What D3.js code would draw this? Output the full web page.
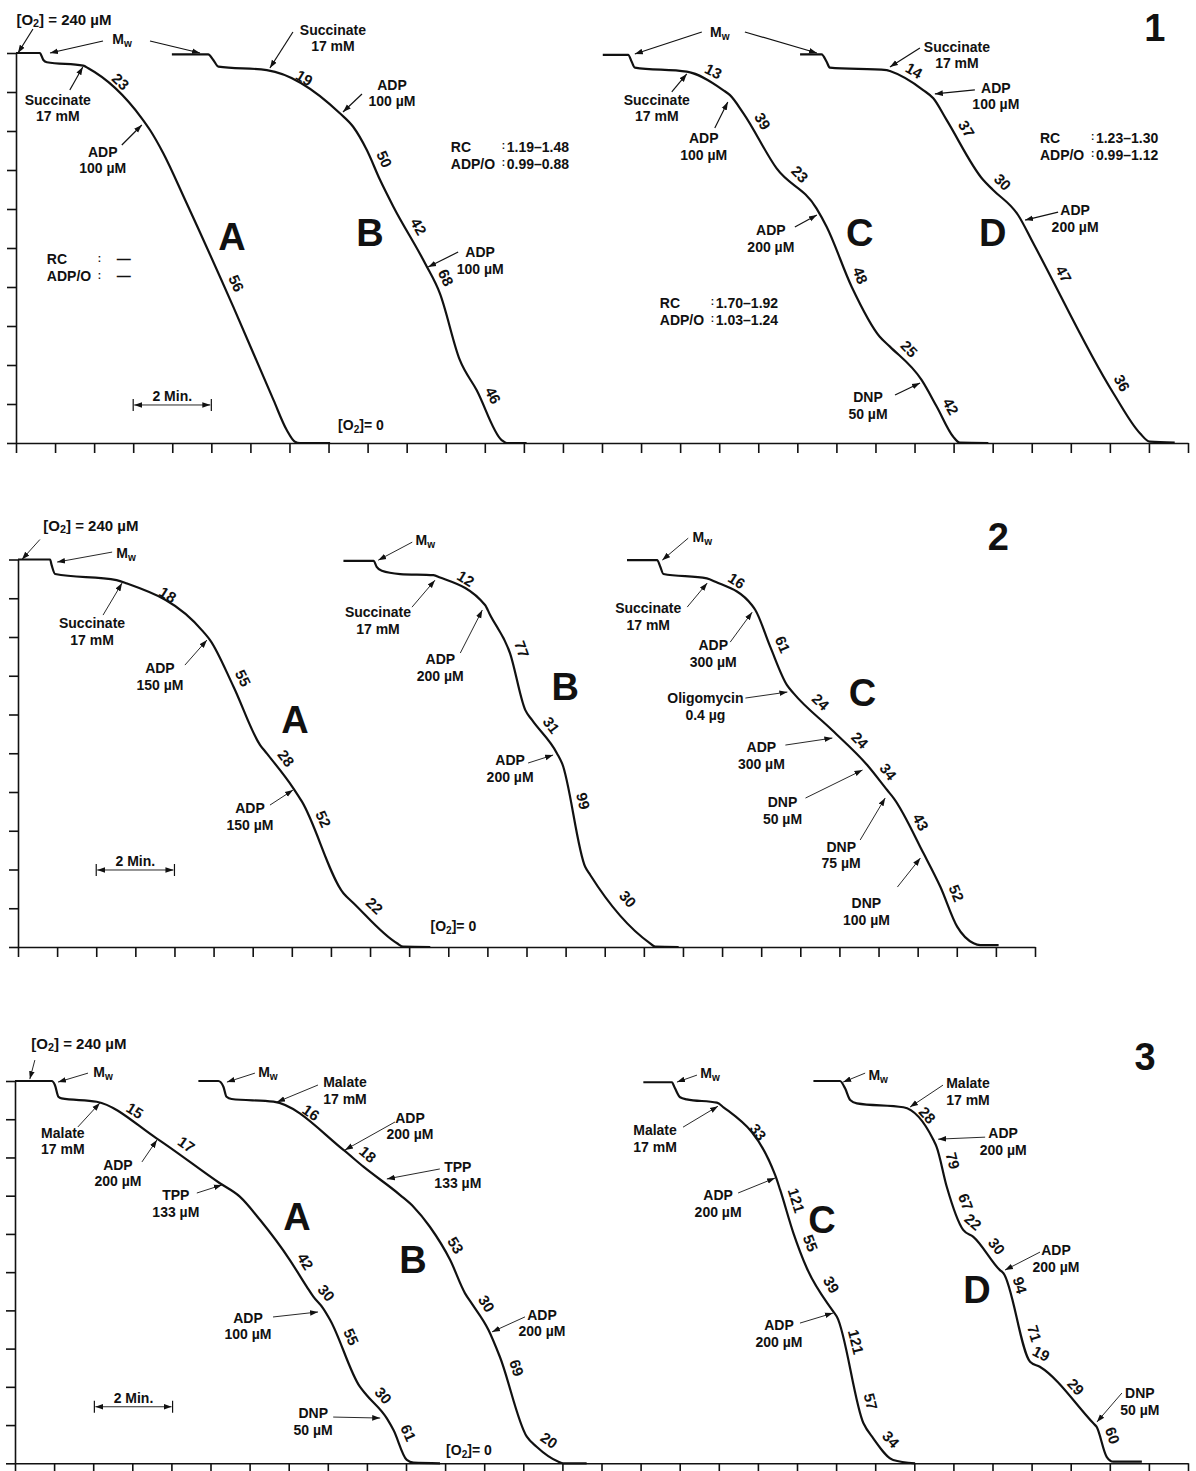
<!DOCTYPE html>
<html lang="en">
<head>
<meta charset="UTF-8">
<title>Oxygen electrode traces</title>
<script src="https://cdn.jsdelivr.net/npm/d3@7"></script>
<style>
    body { margin: 0; background: #fff; }
    svg { display: block; font-family: "Liberation Sans", Arial, sans-serif; }
    .axis path, .axis line { stroke: #111; stroke-width: 1.6px; }
    .trace { fill: none; stroke: #111; stroke-width: 2.2px; stroke-linejoin: round; }
    .note { font-size: 14px; font-weight: bold; fill: #111; }
    .note.o2 { font-size: 15px; }
    .rate { font-size: 15px; font-weight: bold; fill: #111; }
    .big { font-size: 38px; font-weight: bold; fill: #111; }
    .ptr { stroke: #111; stroke-width: 1.2px; }
    .ptr.fine { stroke-width: 0.9px; }
</style>
</head>
<body>
<script>

    /******* DATA *******/
    // traces: [minutes, O2 in µM]
    const trace1A = [[0,240],[0.61,240],[0.70,235.7],[0.79,234.3],[1.72,232.2],[1.85,230.6],[3.22,199.8],[3.43,192.6],[3.77,178.3],[4.33,149.5],[5.56,83.9],[6.59,26.5],[6.93,8],[7.14,0.8],[7.27,0],[8.04,0]];
    const trace1B = [[3.99,239.2],[4.92,239.2],[5.05,235.7],[5.18,231.6],[6.42,229.5],[8.29,202.9],[8.63,194.6],[8.98,180.3],[9.32,161.8],[9.66,145.4],[10.47,110.6],[10.85,92.1],[11.36,51.1],[11.79,32.6],[12.43,1.8],[12.56,0],[13.07,0]];
    const trace1C = [[15.02,238.8],[15.67,238.8],[15.76,234.6],[15.84,231],[17.17,228.5],[18.10,217.2],[18.27,214.2],[18.62,202.9],[19.47,169],[20.49,144.4],[20.75,133.1],[21.39,96.2],[22.11,65.4],[22.37,59.3],[23.18,38.8],[23.57,22.3],[23.99,3.9],[24.16,0.2],[24.89,0]];
    const trace1D = [[20.07,239.2],[20.62,239.2],[20.75,234.6],[20.83,231],[22.29,229.5],[22.37,228.9],[23.22,217.2],[23.48,212.1],[23.82,198.8],[24.76,161.8],[25.01,155.7],[25.65,140.3],[26.04,122.9],[28.09,30.6],[28.77,6],[29.02,0.8],[29.66,0.2]];
    const trace2A = [[0,240],[0.82,240],[0.86,236.5],[0.95,231],[2.52,227.2],[2.78,225.2],[4.74,195.2],[4.91,190.1],[5.51,161.2],[6.19,125.1],[6.36,119.9],[7.04,98.3],[7.26,90],[8.32,33.3],[8.58,27.1],[9.69,2.3],[9.85,0.2],[10.54,0]];
    const trace2B = [[8.32,239.2],[9.09,239.2],[9.17,235.5],[9.30,233],[9.77,231],[10.62,230.3],[10.79,228.9],[11.94,211.8],[12.07,205.6],[12.58,181.9],[12.97,146.7],[13.14,140.6],[13.78,119.9],[13.91,113.7],[14.50,49.7],[14.63,44.6],[16.16,2.3],[16.29,0.2],[16.89,0]];
    const trace2C = [[15.57,239.6],[16.34,239.6],[16.42,235.5],[16.50,231],[17.61,228.3],[17.83,226.2],[18.76,211.8],[18.85,208.7],[19.23,186],[19.66,162.2],[19.83,157.1],[20.81,134.4],[21.71,112.7],[22.22,97.2],[22.39,92.1],[23.15,58],[23.58,37.3],[24.01,12.6],[24.43,2.3],[24.60,1.2],[25.07,1.2]];
    const trace3A = [[0,240],[0.94,240],[1.02,237.5],[1.11,230.1],[1.19,229.1],[2.09,227],[3.62,204],[5.24,175.8],[5.75,167.4],[6.27,152.7],[7.03,127.6],[7.46,110.9],[7.63,104.6],[7.88,97.3],[8.06,90],[8.82,48.1],[8.99,42.9],[9.51,28.2],[9.68,20.9],[10.02,2.1],[10.19,0.4],[10.87,0]];
    const trace3B = [[4.69,240],[5.20,240],[5.33,236.4],[5.41,230.1],[5.54,228.7],[6.61,227],[8.40,196.7],[8.91,186.2],[9.85,168.4],[10.19,161.1],[10.61,148.5],[11.13,127.6],[11.51,106.7],[11.68,100.4],[12.11,83.7],[12.40,66.9],[13.09,16.7],[13.34,10.4],[13.90,1],[14.02,0],[14.62,0]];
    const trace3C = [[16.07,239.2],[16.80,239.2],[16.88,235.4],[17.01,229.8],[17.18,228.5],[17.95,226.4],[18.12,223.5],[19.44,181],[19.57,171.6],[19.91,144.4],[20.25,122.6],[20.93,95.2],[21.02,92],[21.70,25.1],[21.95,15.7],[22.46,2.1],[23.02,0]];
    const trace3D = [[20.42,240],[21.10,240],[21.23,235.4],[21.36,228.1],[21.53,226],[22.72,223.5],[23.49,202.9],[23.57,198.7],[23.83,173.6],[24.25,146.5],[24.51,142.2],[25.19,121.3],[25.28,119.3],[25.96,63.8],[26.21,60.6],[27.58,25.1],[27.66,23],[27.92,4.1],[28.09,1],[28.82,1]];

    const traces = {"1A":trace1A,"1B":trace1B,"1C":trace1C,"1D":trace1D,
                    "2A":trace2A,"2B":trace2B,"2C":trace2C,
                    "3A":trace3A,"3B":trace3B,"3C":trace3C,"3D":trace3D};

    // respiration rates written along the traces: [trace, minute, text]
    const rateLabels = [
        ["1A",2.46,"23"],["1A",5.35,"56"],
        ["1B",7.22,"19"],["1B",9.14,"50"],["1B",10.03,"42"],["1B",10.72,"68"],["1B",11.93,"46"],
        ["1C",17.71,"13"],["1C",18.84,"39"],["1C",19.84,"23"],["1C",21.32,"48"],["1C",22.63,"25"],["1C",23.65,"42"],
        ["1D",22.83,"14"],["1D",24.06,"37"],["1D",25.03,"30"],["1D",26.54,"47"],["1D",28.03,"36"],
        ["2A",3.66,"18"],["2A",5.47,"55"],["2A",6.6,"28"],["2A",7.52,"52"],["2A",8.9,"22"],
        ["2B",11.28,"12"],["2B",12.58,"77"],["2B",13.38,"31"],["2B",14.14,"99"],["2B",15.35,"30"],
        ["2C",18.2,"16"],["2C",19.26,"61"],["2C",20.3,"24"],["2C",21.3,"24"],["2C",22.0,"34"],["2C",22.8,"43"],["2C",23.7,"52"],
        ["3A",2.9,"15"],["3A",4.2,"17"],["3A",7.16,"42"],["3A",7.72,"30"],["3A",8.31,"55"],["3A",9.18,"30"],["3A",9.77,"61"],
        ["3B",7.39,"16"],["3B",8.82,"18"],["3B",11.0,"53"],["3B",11.79,"30"],["3B",12.53,"69"],["3B",13.48,"20"],
        ["3C",18.75,"33"],["3C",19.68,"121"],["3C",20.05,"55"],["3C",20.61,"39"],["3C",21.2,"121"],["3C",21.58,"57"],["3C",22.17,"34"],
        ["3D",23.1,"28"],["3D",23.68,"79"],["3D",24.02,"67"],["3D",24.3,"22"],["3D",24.86,"30"],["3D",25.4,"94"],["3D",25.77,"71"],["3D",26.1,"19"],["3D",26.9,"29"],["3D",27.77,"60"]
    ];

    // additions: [panel, minute, µM (arrow tip), text, text dx, dy, tail dx, dy]
    const callouts = [
        [1,0.05,240,"[O2] = 240 µM",46,-34,15,-24],
        [1,0.87,240,"Mw",72,-14,53,-12],
        [1,4.71,240,"",0,0,-50,-12],
        [1,1.71,231.4,"Succinate|17 mM",-25,33,-13,23],
        [1,3.22,195.7,"ADP|100 µM",-39,27,-20,20],
        [1,6.50,230.8,"Succinate|17 mM",63,-38,23,-36],
        [1,8.37,203.7,"ADP|100 µM",49,-27,19,-18],
        [1,10.55,108.3,"ADP|100 µM",52,-15,30,-15],
        [1,15.84,239.4,"Mw",85,-22,67,-22],
        [1,20.50,240,"",0,0,-72,-21],
        [1,17.17,227.1,"Succinate|17 mM",-30,26,-15,18],
        [1,18.22,209.8,"ADP|100 µM",-24,36,-13,26],
        [1,20.50,140.3,"ADP|200 µM",-46,15,-22,12],
        [1,23.14,36.9,"DNP|50 µM",-52,14,-25,12],
        [1,22.37,231.4,"Succinate|17 mM",67,-20,30,-19],
        [1,23.52,214.8,"ADP|100 µM",61,-6,40,-4],
        [1,25.83,137.2,"ADP|200 µM",50,-10,33,-8],
        [2,0.10,240,"[O2] = 240 µM",69,-35,18,-20],
        [2,1.0,238.4,"Mw",69,-9,55,-10],
        [2,2.66,225.4,"Succinate|17 mM",-30,40,-19,32],
        [2,4.83,190.1,"ADP|150 µM",-47,28,-22,25],
        [2,7.03,97.2,"ADP|150 µM",-43,18,-23,15],
        [2,9.21,239.6,"Mw",47,-20,34,-18],
        [2,10.66,227.2,"Succinate|17 mM",-57,32,-23,27],
        [2,11.87,208.7,"ADP|200 µM",-42,49,-22,43],
        [2,13.68,118.9,"ADP|200 µM",-43,5,-25,8],
        [2,16.47,239.6,"Mw",40,-23,26,-22],
        [2,17.62,225.4,"Succinate|17 mM",-59,25,-20,24],
        [2,18.77,207.4,"ADP|300 µM",-39,33,-22,30],
        [2,19.67,157.9,"Oligomycin|0.4 µg",-82,6,-42,6],
        [2,20.82,129.4,"ADP|300 µM",-71,9,-47,7],
        [2,21.59,109.6,"DNP|50 µM",-80,32,-57,28],
        [2,22.17,92.3,"DNP|75 µM",-44,49,-25,42],
        [2,23.07,55.1,"DNP|100 µM",-54,45,-23,29],
        [3,0.38,241.2,"[O2] = 240 µM",49,-36,5,-19],
        [3,1.10,239.3,"Mw",45,-10,30,-9],
        [3,2.17,226.2,"Malate|17 mM",-37,30,-22,24],
        [3,3.63,203,"ADP|200 µM",-39,25,-15,22],
        [3,5.29,174.7,"TPP|133 µM",-46,10,-25,8],
        [3,7.75,95,"ADP|100 µM",-70,6,-45,5],
        [3,9.34,28.4,"DNP|50 µM",-67,-5,-47,-1],
        [3,5.42,239.3,"Mw",41,-10,28,-9],
        [3,6.70,226.8,"Malate|17 mM",68,-20,41,-17],
        [3,8.44,196.7,"ADP|200 µM",65,-32,50,-28],
        [3,9.51,178.5,"TPP|133 µM",71,-12,53,-10],
        [3,12.20,82.5,"ADP|200 µM",50,-17,33,-15],
        [3,16.93,239.3,"Mw",33,-9,20,-7],
        [3,17.98,224.2,"Malate|17 mM",-63,24,-35,21],
        [3,19.44,179.1,"ADP|200 µM",-57,17,-37,15],
        [3,20.92,94.3,"ADP|200 µM",-54,12,-33,10],
        [3,21.18,239.3,"Mw",35,-7,22,-9],
        [3,22.89,223.6,"Malate|17 mM",58,-24,33,-22],
        [3,23.61,203.5,"ADP|200 µM",65,-6,47,-2],
        [3,25.32,121.3,"ADP|200 µM",51,-20,35,-18],
        [3,27.67,25.9,"DNP|50 µM",43,-29,25,-29]
    ];

    // RC and ADP/O ratios: [panel, minute, µM, RC, ADP/O]
    const ratios = [
        [1,0.79,113.2,"—","—"],
        [1,11.13,182.2,"1.19–1.48","0.99–0.88"],
        [1,16.48,86.2,"1.70–1.92","1.03–1.24"],
        [1,26.21,187.7,"1.23–1.30","0.99–1.12"]
    ];

    const traceLetters = [[1,5.53,126.8,"A"],[1,9.06,129.2,"B"],[1,21.6,129.2,"C"],[1,25.0,129.2,"D"],
                          [2,7.08,140.6,"A"],[2,13.99,161,"B"],[2,21.59,157.3,"C"],
                          [3,7.21,154.6,"A"],[3,10.18,127.6,"B"],[3,20.64,152.7,"C"],[3,24.6,108.8,"D"]];
    const panelNumbers = [[1,29.15,255.4,"1"],[2,25.06,253.9,"2"],[3,28.9,255,"3"]];
    const minuteBars = [[1,3.0,23.4],[2,2.0,47.7],[3,2.03,35.5]];
    const zeroLabels = [[1,8.83,11.1],[2,11.13,13],[3,11.61,8.4]];

    /******* LAYOUT *******/
    const width = 1196, height = 1471;
    const panels = [
        {id:1, left:16, right:1188, minutes:30, top:53, bottom:443},
        {id:2, left:18, right:1035, minutes:26, top:559.5, bottom:947},
        {id:3, left:15, right:1188, minutes:30, top:1081, bottom:1463.3}
    ];

    const svg = d3.select("body").append("svg").attr("width", width).attr("height", height);
    svg.append("defs").append("marker")
        .attr("id", "head").attr("viewBox", "0 0 10 10")
        .attr("refX", 10).attr("refY", 5)
        .attr("markerWidth", 8).attr("markerHeight", 8)
        .attr("markerUnits", "userSpaceOnUse").attr("orient", "auto-start-reverse")
        .append("path").attr("d", "M0,1.5L10,5L0,8.5Z").attr("fill", "#111");

    // rich text with subscripts for O2 and Mw
    function rich(sel, str) {
        let shift = 0;
        str.split(/(O2|Mw)/).filter(s => s).forEach(part => {
            if (part === "O2" || part === "Mw") {
                sel.append("tspan").attr("dy", shift ? -shift : null).text(part[0]);
                sel.append("tspan").attr("dy", 4).attr("font-size", "72%").text(part[1]);
                shift = 4;
            } else {
                sel.append("tspan").attr("dy", shift ? -shift : null).text(part);
                shift = 0;
            }
        });
    }

    function pointAt(tr, t) {
        if (t <= tr[0][0]) return tr[0];
        for (let i = 0; i < tr.length - 1; i++) {
            const a = tr[i], b = tr[i + 1];
            if (t >= a[0] && t <= b[0]) {
                const f = (t - a[0]) / (b[0] - a[0] || 1);
                return [t, a[1] + f * (b[1] - a[1])];
            }
        }
        return tr[tr.length - 1];
    }

    /******* AXES *******/
    const scales = {};
    panels.forEach(p => {
        const x = d3.scaleLinear().domain([0, p.minutes]).range([p.left, p.right]);
        const y = d3.scaleLinear().domain([0, 240]).range([p.bottom, p.top]);
        scales[p.id] = {x, y};

        svg.append("g").attr("class", "axis")
            .attr("transform", `translate(0,${p.bottom})`)
            .call(d3.axisBottom(x).tickValues(d3.range(0, p.minutes + 1))
                .tickSize(10).tickSizeOuter(0).tickFormat(""));
        svg.append("g").attr("class", "axis")
            .attr("transform", `translate(${p.left},0)`)
            .call(d3.axisLeft(y).tickValues(d3.range(0, 241, 24))
                .tickSize(9).tickSizeOuter(0).tickFormat(""));
    });

    /******* TRACES *******/
    Object.entries(traces).forEach(([key, tr]) => {
        const s = scales[key[0]];
        const line = d3.line().x(d => s.x(d[0])).y(d => s.y(d[1])).curve(d3.curveMonotoneX);
        svg.append("path").attr("class", "trace").attr("d", line(tr));
    });

    // rates, rotated along the trace
    rateLabels.forEach(([key, t, txt]) => {
        const s = scales[key[0]], tr = traces[key];
        const a = pointAt(tr, t - 0.06), b = pointAt(tr, t + 0.06), c = pointAt(tr, t);
        const ang = Math.atan2(s.y(b[1]) - s.y(a[1]), s.x(b[0]) - s.x(a[0])) * 180 / Math.PI;
        svg.append("text").attr("class", "rate")
            .attr("transform", `translate(${s.x(c[0])},${s.y(c[1])}) rotate(${ang})`)
            .attr("y", -7).attr("text-anchor", "middle")
            .text(txt);
    });

    /******* ANNOTATIONS *******/
    callouts.forEach(([p, t, v, txt, dx, dy, ax, ay]) => {
        const s = scales[p];
        const px = s.x(t), py = s.y(v);
        svg.append("line").attr("class", p === 1 ? "ptr" : "ptr fine")
            .attr("x1", px + ax).attr("y1", py + ay)
            .attr("x2", px).attr("y2", py)
            .attr("marker-end", "url(#head)");
        if (!txt) return;
        txt.split("|").forEach((ln, i) => {
            const el = svg.append("text").attr("class", ln.startsWith("[O2]") ? "note o2" : "note")
                .attr("x", px + dx).attr("y", py + dy + i * 16.5)
                .attr("text-anchor", "middle").attr("dominant-baseline", "central");
            rich(el, ln);
        });
    });

    ratios.forEach(([p, t, v, rc, adpo]) => {
        const s = scales[p];
        const px = s.x(t), py = s.y(v);
        [["RC", rc], ["ADP/O", adpo]].forEach(([lab, val], i) => {
            const yy = py + i * 17;
            svg.append("text").attr("class", "note").attr("x", px).attr("y", yy)
                .attr("dominant-baseline", "central").text(lab);
            svg.append("text").attr("class", "note").attr("x", px + 51).attr("y", yy - 1)
                .attr("dominant-baseline", "central").style("font-size", "10px").text(":");
            svg.append("text").attr("class", "note").attr("x", px + (val === "—" ? 70 : 56)).attr("y", yy)
                .attr("dominant-baseline", "central").text(val);
        });
    });

    traceLetters.concat(panelNumbers).forEach(([p, t, v, txt]) => {
        const s = scales[p];
        svg.append("text").attr("class", "big")
            .attr("x", s.x(t)).attr("y", s.y(v))
            .attr("text-anchor", "middle").attr("dominant-baseline", "central")
            .text(txt);
    });

    // 2 minute scale bars
    minuteBars.forEach(([p, t, v]) => {
        const s = scales[p];
        const x1 = s.x(t), x2 = s.x(t + 2), yy = s.y(v);
        const g = svg.append("g");
        [x1, x2].forEach(xx => g.append("line").attr("class", "ptr")
            .attr("x1", xx).attr("x2", xx).attr("y1", yy - 6).attr("y2", yy + 6));
        g.append("line").attr("class", "ptr fine")
            .attr("x1", x1 + 1).attr("x2", x2 - 1).attr("y1", yy).attr("y2", yy)
            .attr("marker-start", "url(#head)").attr("marker-end", "url(#head)");
        g.append("text").attr("class", "note")
            .attr("x", (x1 + x2) / 2).attr("y", yy - 4)
            .attr("text-anchor", "middle").text("2 Min.");
    });

    zeroLabels.forEach(([p, t, v]) => {
        const s = scales[p];
        const el = svg.append("text").attr("class", "note")
            .attr("x", s.x(t)).attr("y", s.y(v))
            .attr("text-anchor", "middle").attr("dominant-baseline", "central");
        rich(el, "[O2]= 0");
    });

</script>
</body>
</html>
